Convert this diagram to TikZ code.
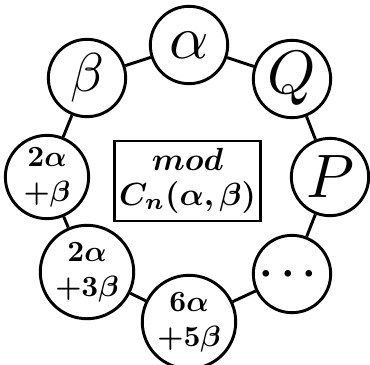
\documentclass[tikz,border=0pt]{standalone}
\usepackage{amsmath,amssymb,bm}
\usepackage{graphicx}
\usepackage{tikz}
\usetikzlibrary{shapes}
\tikzstyle{ring}=[draw, circle, line width=2.2pt, fill=white, minimum size=58pt, inner sep=0pt, align=center]
\newcommand{\bigsym}[2][4.6]{\scalebox{#1}{$#2$}}
\newcommand{\twoline}[2]{\scalebox{2.2}{\def\arraystretch{0.98}\begin{tabular}{@{}c@{}}$\bm{#1}$\\$\bm{#2}$\end{tabular}}}

\begin{document}
\begin{tikzpicture}[x=0.75pt,y=-0.75pt]
    \useasboundingbox (0,0) rectangle (370,364);
    \node[ring] (al) at (189,45) {\bigsym{\alpha}};
    \node[ring] (Q) at (292,79) {\bigsym{Q}};
    \node[ring] (P) at (330,177) {\bigsym{P}};
    \node[ring] (dots) at (292,274) {\scalebox{3.2}{$\bm{\cdots}$}};
    \node[ring] (sixfive) at (189,322) {\twoline{6\alpha}{+5\beta}};
    \node[ring] (twothree) at (87,272) {\twoline{2\alpha}{+3\beta}};
    \node[ring] (twoone) at (47,177) {\twoline{2\alpha}{+\beta}};
    \node[ring] (be) at (87,78) {\bigsym[4.1]{\beta}};
    \node[draw, line width=2.2pt, minimum width=107pt, minimum height=60pt] (box) at (187.5,181)
        {\scalebox{2.4}{\def\arraystretch{0.9}\begin{tabular}{@{}c@{}}$\bm{mod}$\\$\bm{C_n(\alpha,\beta)}$\end{tabular}}};
    \foreach \a/\b in {al/Q,Q/P,P/dots,dots/sixfive,sixfive/twothree,twothree/twoone,twoone/be,be/al}
        \draw[line width=2.2pt] (\a) -- (\b);
\end{tikzpicture}
\end{document}
